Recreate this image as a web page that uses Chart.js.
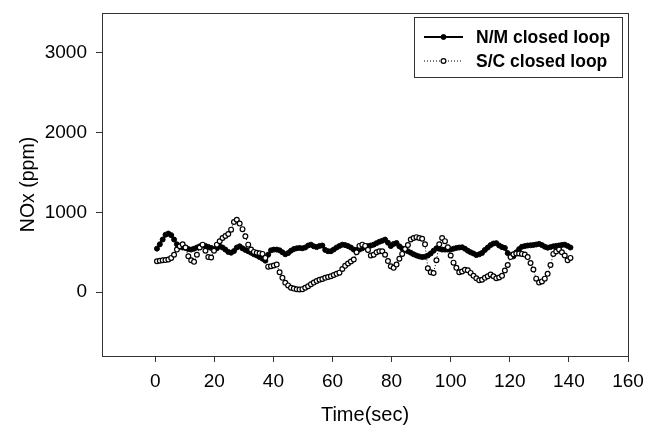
<!DOCTYPE html>
<html>
<head>
<meta charset="utf-8">
<script src="https://cdn.jsdelivr.net/npm/chart.js@4.4.1/dist/chart.umd.min.js"></script>
<style>
  html, body { margin: 0; padding: 0; background: #fff; }
</style>
</head>
<body>
<canvas id="noxChart" width="647" height="436"></canvas>
<script>
// NOx vs time, two closed-loop strategies
const SERIES_NAMES = ['N/M closed loop', 'S/C closed loop'];

// one sample per logger step, starting at SAMPLE_START seconds
const SAMPLE_START = 0.6;
const SAMPLE_STEP = 0.965;

const NM_NOX = [
  546, 600, 660, 720, 735, 715, 660, 600, 570, 560,
  555, 540, 534, 545, 560, 575, 588, 580, 568, 555,
  538, 550, 575, 560, 534, 505, 495, 515, 560, 575,
  550, 530, 513, 495, 475, 460, 440, 420, 395, 470,
  525, 534, 534, 525, 500, 475, 490, 520, 540, 550,
  555, 550, 560, 585, 596, 575, 565, 580, 585, 530,
  513, 513, 535, 560, 580, 596, 590, 578, 560, 534,
  530, 534, 550, 570, 578, 585, 596, 615, 632, 645,
  659, 620, 578, 605, 617, 575, 548, 530, 513, 495,
  475, 460, 448, 440, 445, 460, 485, 520, 550, 545,
  534, 534, 534, 536, 545, 555, 560, 563, 545, 520,
  500, 485, 465, 475, 492, 530, 560, 590, 610, 615,
  585, 565, 555, 490, 460, 450, 500, 540, 570, 578,
  585, 588, 592, 598, 605, 590, 570, 558, 565, 575,
  580, 586, 592, 596, 580, 560
];

const SC_NOX = [
  388, 395, 400, 402, 410, 430, 470, 534, 575, 600,
  560, 450, 400, 380, 470, 560, 596, 520, 440, 435,
  520, 596, 638, 680, 705, 730, 784, 880, 909, 860,
  790, 700, 596, 534, 505, 495, 488, 480, 430, 320,
  325, 335, 346, 250, 180, 117, 85, 55, 45, 36,
  34, 38, 55, 75, 100, 120, 140, 155, 165, 180,
  190, 200, 215, 230, 245, 290, 330, 360, 385, 409,
  500, 580, 596, 580, 530, 460, 470, 500, 513, 513,
  470, 390, 325, 305, 346, 420, 480, 540, 590, 660,
  680, 690, 680, 670, 600, 300, 250, 240, 400, 600,
  680, 640, 563, 460, 370, 305, 250, 260, 280, 275,
  242, 205, 175, 150, 155, 180, 200, 221, 200, 175,
  185, 205, 271, 340, 440, 475, 485, 485, 480, 471,
  440, 365, 284, 170, 120, 135, 170, 230, 340, 480,
  510, 534, 500, 460, 400, 430
];

const X_TICKS = [0, 20, 40, 60, 80, 100, 120, 140, 160];
const Y_TICKS = [0, 1000, 2000, 3000];
const X_RANGE = [-18, 160];
const Y_RANGE = [-800, 3500];

const toPoints = (vals) => vals.map((v, i) => ({ x: SAMPLE_START + i * SAMPLE_STEP, y: v }));

const FONT = '"Liberation Sans", Arial, sans-serif';
const INK = '#000';
const AXIS = '#333';

// frame round the plot area (SigmaPlot style box)
const frame = {
  id: 'frame',
  afterDraw(chart) {
    const { ctx, chartArea: a } = chart;
    ctx.save();
    ctx.strokeStyle = AXIS;
    ctx.lineWidth = 1;
    ctx.strokeRect(Math.round(a.left) + 0.5, Math.round(a.top) + 0.5, Math.round(a.right - a.left), Math.round(a.bottom - a.top));
    ctx.restore();
  }
};

// boxed legend in the top-right corner
const boxLegend = {
  id: 'boxLegend',
  afterDraw(chart, args, o) {
    const ctx = chart.ctx;
    ctx.save();
    ctx.fillStyle = '#fff';
    ctx.fillRect(o.x, o.y, o.w, o.h);
    ctx.strokeStyle = AXIS;
    ctx.lineWidth = 1;
    ctx.strokeRect(o.x + 0.5, o.y + 0.5, o.w, o.h);
    chart.data.datasets.forEach((ds, i) => {
      const y = o.y + o.row0 + i * o.rowGap;
      ctx.beginPath();
      ctx.setLineDash(ds.borderDash || []);
      ctx.lineWidth = ds.borderWidth;
      ctx.strokeStyle = ds.borderColor;
      ctx.moveTo(o.x + 10, y);
      ctx.lineTo(o.x + 49, y);
      ctx.stroke();
      ctx.setLineDash([]);
      ctx.beginPath();
      ctx.arc(o.x + 29.5, y, ds.pointRadius, 0, Math.PI * 2);
      ctx.fillStyle = ds.pointBackgroundColor;
      ctx.fill();
      ctx.lineWidth = ds.pointBorderWidth;
      ctx.strokeStyle = ds.pointBorderColor;
      ctx.stroke();
      ctx.fillStyle = INK;
      ctx.font = 'bold 17.5px ' + FONT;
      ctx.textBaseline = 'middle';
      ctx.fillText(ds.label, o.x + 62, y + 1);
    });
    ctx.restore();
  }
};

// keep the plot box where the reference has it: no extra padding for end labels
const noEdgePad = (s) => { s.paddingTop = 0; s.paddingBottom = 0; s.paddingLeft = 0; s.paddingRight = 0; };

new Chart(document.getElementById('noxChart'), {
  type: 'line',
  data: {
    datasets: [
      {
        label: SERIES_NAMES[0],
        data: toPoints(NM_NOX),
        borderColor: '#000',
        borderWidth: 2,
        pointRadius: 2.5,
        pointBackgroundColor: '#000',
        pointBorderColor: '#000',
        pointBorderWidth: 1,
        tension: 0,
        order: 2,
      },
      {
        label: SERIES_NAMES[1],
        data: toPoints(SC_NOX),
        borderColor: '#000',
        borderWidth: 1,
        borderDash: [1, 2],
        pointRadius: 2.4,
        pointBackgroundColor: '#fff',
        pointBorderColor: '#000',
        pointBorderWidth: 1.2,
        tension: 0,
        order: 1,
      },
    ],
  },
  options: {
    responsive: false,
    animation: false,
    layout: { padding: { top: 13, right: 19, left: 0, bottom: 0 } },
    plugins: {
      legend: { display: false },
      tooltip: { enabled: false },
      boxLegend: { x: 414, y: 17, w: 208, h: 60, row0: 20, rowGap: 24 },
    },
    scales: {
      x: {
        type: 'linear',
        min: X_RANGE[0], max: X_RANGE[1],
        afterBuildTicks: (s) => { s.ticks = X_TICKS.map(v => ({ value: v })); },
        afterFit: (s) => { s.height = 80; noEdgePad(s); },
        grid: { drawOnChartArea: false, drawTicks: true, tickLength: 6, color: AXIS },
        border: { display: true, color: AXIS },
        ticks: { color: INK, padding: 8, maxRotation: 0, font: { family: FONT, size: 19 }, callback: (v) => String(v) },
        title: { display: true, text: 'Time(sec)', color: INK, font: { family: FONT, size: 20 }, padding: { top: 0, bottom: 9 } },
      },
      y: {
        type: 'linear',
        min: Y_RANGE[0], max: Y_RANGE[1],
        afterBuildTicks: (s) => { s.ticks = Y_TICKS.map(v => ({ value: v })); },
        afterFit: (s) => { s.width = 102; noEdgePad(s); },
        grid: { drawOnChartArea: false, drawTicks: true, tickLength: 6, color: AXIS },
        border: { display: true, color: AXIS },
        ticks: { color: INK, padding: 9, font: { family: FONT, size: 19 }, callback: (v) => String(v) },
        title: { display: true, text: 'NOx (ppm)', color: INK, font: { family: FONT, size: 19.5 }, padding: { top: 17, bottom: 0 } },
      },
    },
  },
  plugins: [frame, boxLegend],
});
</script>
</body>
</html>
